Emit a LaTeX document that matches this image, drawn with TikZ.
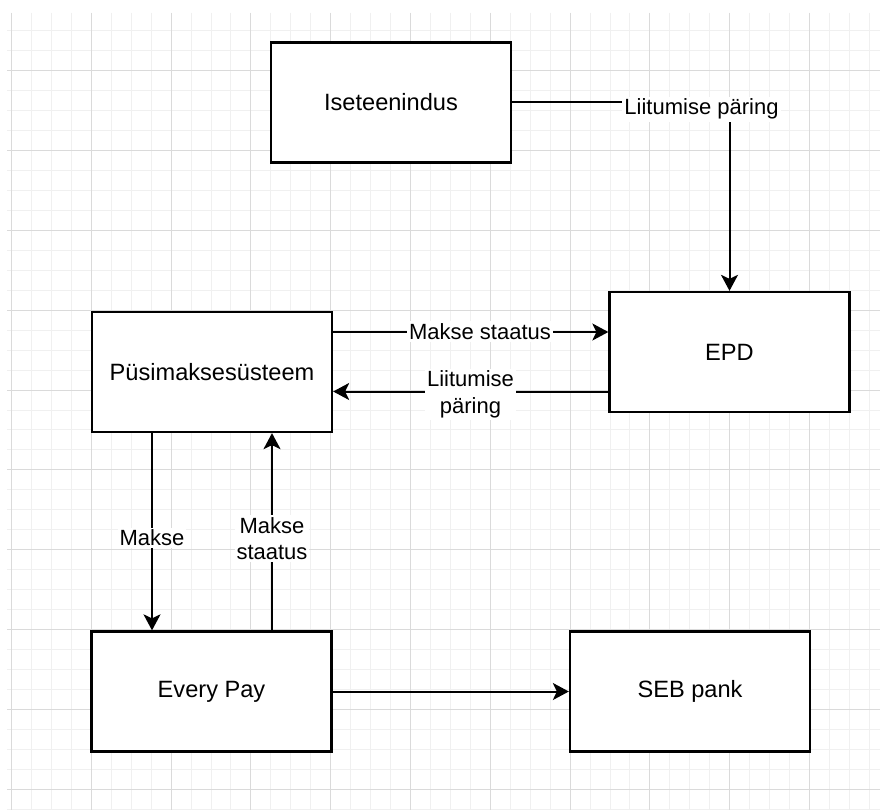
\documentclass[tikz,border=0pt]{standalone}
\usepackage{fontspec}
\setmainfont{Liberation Sans}
\usetikzlibrary{arrows.meta}
\definecolor{gridminor}{RGB}{240,240,240}
\definecolor{gridmajor}{RGB}{218,218,218}
\tikzset{
  minorline/.style={draw=gridminor, line width=1pt},
  majorline/.style={draw=gridmajor, line width=1pt},
  boxnode/.style={draw=black, fill=white, line width=2.3pt, rectangle,
    minimum width=240pt, minimum height=120pt, inner sep=0pt,
    font=\fontsize{23.6}{28}\selectfont},
  arr/.style={draw=black, line width=2pt,
    -{Stealth[length=16pt, width=17pt, inset=4pt]}},
  lbl/.style={fill=white, inner sep=2pt, align=center,
    font=\fontsize{22}{26.3}\selectfont}
}
\begin{document}
\begin{tikzpicture}[x=1pt, y=-1pt]
\useasboundingbox (0,0) rectangle (880,810);
\fill[white] (0,0) rectangle (880,810);
% grid
\foreach \k in {0,...,43} \draw[minorline] ({11.5+19.95*\k},13) -- ({11.5+19.95*\k},810);
\foreach \k in {1,...,40} \draw[minorline] (7,{11+19.95*\k}) -- (880,{11+19.95*\k});
\foreach \k in {0,4,...,40} \draw[majorline] ({11.5+19.95*\k},13) -- ({11.5+19.95*\k},810);
\foreach \k in {3,7,...,39} \draw[majorline] (7,{11+19.95*\k}) -- (880,{11+19.95*\k});

% boxes
\node[boxnode] (ise) at (391,102.5) {Iseteenindus};
\node[boxnode] (epd) at (729.5,352) {EPD};
\node[boxnode] (pus) at (212,372) {Püsimaksesüsteem};
\node[boxnode] (ep) at (211.5,691.5) {Every Pay};
\node[boxnode] (seb) at (690,691.5) {SEB pank};

% Iseteenindus -> EPD
\draw[arr] (ise.east) -| (epd.north);
\node[lbl, anchor=base] (l1) at (701.5,115) {Liitumise päring};

% Püsi -> EPD
\path ([yshift=40pt]pus.east) coordinate (a1);
\draw[arr] (a1) -- (a1 -| epd.west);
\node[lbl, anchor=base] (l2) at (480,339.3) {Makse staatus};

% EPD -> Püsi
\path ([yshift=-39.5pt]epd.west) coordinate (a2);
\draw[arr] (a2) -- (a2 -| pus.east);
\node[lbl] (l3) at (470.5,394.3) {Liitumise\\päring};

% Püsi -> Every Pay
\path ([xshift=-60pt]pus.south) coordinate (b1);
\draw[arr] (b1) -- (b1 |- ep.north);
\node[lbl, anchor=base] (l4) at (152,545.5) {Makse};

% Every Pay -> Püsi
\path ([xshift=60.5pt]ep.north) coordinate (b2);
\draw[arr] (b2) -- (b2 |- pus.south);
\node[lbl] (l5) at (272,538.5) {Makse\\staatus};

% Every Pay -> SEB
\draw[arr] (ep.east) -- (seb.west);
\end{tikzpicture}
\end{document}
